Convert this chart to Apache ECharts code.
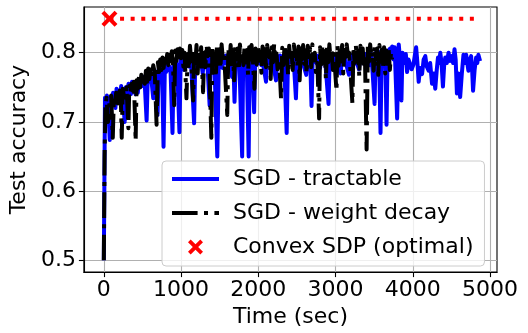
<!DOCTYPE html>
<html>
<head>
<meta charset="utf-8">
<script src="https://cdn.jsdelivr.net/npm/echarts@6/dist/echarts.min.js"></script>
<style>
html,body{margin:0;padding:0;background:#fff;}
#chart{width:528px;height:333px;}
</style>
</head>
<body>
<div id="chart"></div>
<script>
// ---- data ----
const blueTime = [0,8,15,28,40,55,77,90,105,120,135,150,165,180,195,210,225,245,271,285,300,320,335,350,365,380,395,410,425,440,455,470,485,500,515,530,554,570,585,600,615,640,655,670,696,710,725,740,755,773,790,805,820,835,850,865,889,905,920,935,950,979,995,1010,1025,1040,1055,1070,1085,1100,1115,1130,1169,1185,1200,1215,1230,1245,1260,1280,1300,1315,1335,1370,1385,1400,1415,1430,1469,1490,1505,1520,1535,1550,1565,1580,1600,1615,1630,1660,1675,1692,1710,1725,1740,1755,1791,1805,1820,1835,1850,1875,1890,1905,1920,1946,1960,1975,1990,2010,2025,2040,2055,2070,2100,2115,2135,2150,2170,2185,2200,2229,2245,2260,2280,2300,2315,2335,2367,2385,2400,2420,2440,2455,2487,2505,2520,2540,2555,2570,2590,2620,2635,2650,2670,2689,2705,2720,2740,2760,2780,2800,2820,2840,2855,2870,2909,2925,2940,2960,2975,2995,3010,3025,3040,3067,3085,3100,3120,3135,3174,3190,3210,3225,3245,3260,3275,3303,3320,3335,3355,3370,3390,3410,3425,3440,3455,3470,3505,3520,3535,3550,3565,3582,3598,3612,3630,3645,3660,3675,3690,3705,3720,3733,3750,3765,3797,3818,3835,3853,3866,3879,3895,3910,3926,3945,3969,3985,4008,4025,4043,4060,4076,4095,4120,4140,4162,4180,4205,4225,4249,4270,4291,4310,4326,4340,4356,4372,4390,4405,4420,4440,4463,4480,4506,4522,4540,4555,4571,4590,4613,4635,4656,4672,4691,4705,4720,4738,4755,4768,4780,4800,4820,4835,4849,4871];
const blueAcc  = [0.500,0.620,0.735,0.725,0.738,0.730,0.674,0.735,0.728,0.742,0.735,0.720,0.748,0.738,0.745,0.735,0.752,0.735,0.700,0.750,0.742,0.755,0.745,0.740,0.758,0.748,0.752,0.740,0.757,0.742,0.760,0.750,0.762,0.752,0.765,0.755,0.702,0.768,0.758,0.770,0.762,0.734,0.772,0.765,0.710,0.776,0.768,0.778,0.770,0.664,0.778,0.772,0.782,0.775,0.780,0.770,0.684,0.785,0.778,0.788,0.780,0.685,0.790,0.780,0.792,0.775,0.792,0.782,0.795,0.780,0.795,0.785,0.698,0.795,0.785,0.796,0.782,0.795,0.788,0.770,0.795,0.785,0.795,0.724,0.792,0.782,0.796,0.788,0.650,0.795,0.782,0.795,0.778,0.795,0.785,0.796,0.782,0.794,0.785,0.765,0.795,0.729,0.795,0.786,0.796,0.784,0.650,0.795,0.786,0.796,0.788,0.650,0.795,0.786,0.796,0.714,0.795,0.782,0.795,0.785,0.796,0.782,0.795,0.778,0.758,0.795,0.785,0.796,0.784,0.795,0.778,0.760,0.795,0.786,0.796,0.782,0.795,0.786,0.684,0.796,0.786,0.796,0.784,0.795,0.734,0.796,0.786,0.797,0.784,0.795,0.780,0.768,0.795,0.785,0.796,0.723,0.796,0.786,0.797,0.784,0.796,0.778,0.795,0.786,0.797,0.782,0.726,0.797,0.786,0.797,0.783,0.796,0.786,0.797,0.778,0.770,0.797,0.786,0.797,0.784,0.768,0.797,0.786,0.797,0.784,0.797,0.786,0.776,0.798,0.786,0.798,0.784,0.798,0.786,0.800,0.782,0.800,0.788,0.726,0.800,0.788,0.802,0.786,0.684,0.802,0.790,0.800,0.788,0.696,0.803,0.792,0.806,0.795,0.809,0.790,0.808,0.705,0.812,0.790,0.731,0.800,0.797,0.785,0.798,0.772,0.790,0.790,0.776,0.783,0.795,0.808,0.785,0.758,0.778,0.769,0.790,0.795,0.780,0.774,0.785,0.755,0.770,0.748,0.775,0.793,0.785,0.800,0.785,0.751,0.780,0.793,0.785,0.800,0.788,0.795,0.785,0.805,0.790,0.741,0.770,0.736,0.770,0.797,0.785,0.797,0.785,0.774,0.790,0.795,0.775,0.745,0.775,0.793,0.785,0.797,0.788];

const blackTime = [0,10,20,35,55,75,95,116,130,145,160,175,190,205,220,232,245,260,280,295,318,330,345,360,375,390,412,425,440,455,470,485,500,515,530,545,560,575,590,605,620,640,660,683,700,715,730,745,760,775,790,805,820,835,850,865,880,895,911,925,940,955,970,985,
  1000,1015,1030,1045,1070,1085,1100,1115,1130,1156,
  1170,1185,1200,1215,1230,1245,1260,1285,1300,1315,
  1330,1345,1360,1392,1405,1420,1435,1450,1465,1480,
  1495,1510,1525,1540,1555,1570,1598,1612,1627,1642,
  1657,1672,1687,1702,1717,1732,1747,1762,1777,1792,
  1807,1822,1837,1852,1867,1882,1897,1912,1927,1950,
  1965,1980,1995,2010,2025,2040,2055,2070,2085,2100,
  2115,2130,2145,2160,2175,2190,2205,2220,2235,2250,
  2270,2294,2310,2325,2340,2355,2370,2385,2400,2415,
  2430,2445,2460,2475,2490,2505,2520,2535,2550,2565,
  2580,2595,2610,2625,2640,2655,2670,2685,2700,2715,
  2730,2745,2765,2787,2800,2815,2830,2845,2860,2875,
  2890,2905,2920,2935,2950,2965,2980,3012,3025,3040,
  3055,3070,3085,3100,3115,3130,3145,3160,3175,3190,
  3218,3232,3247,3262,3277,3292,3307,3322,3337,3352,
  3367,3380,3402,3418,3433,3448,3463,3478,3493,3508,
  3523,3538,3553,3568,3583,3598,3613,3628,3643,3658,
  3673,3688,3703,3718,3733];
const blackAcc  = [0.500,0.650,0.720,0.735,0.700,0.730,0.738,0.677,0.735,0.728,0.742,0.730,0.720,0.745,0.735,0.677,0.748,0.738,0.735,0.750,0.691,0.752,0.742,0.755,0.745,0.758,0.673,0.760,0.748,0.765,0.750,0.768,0.752,0.770,0.755,0.774,0.758,0.777,0.762,0.780,0.765,0.782,0.770,0.696,0.786,0.772,0.790,0.775,0.793,0.778,0.796,0.780,0.798,0.782,0.800,0.785,0.802,0.788,0.724,0.803,0.788,0.805,0.786,0.806,
  0.792,0.804,0.780,0.800,0.734,0.798,0.776,0.810,0.790,0.731,
  0.805,0.785,0.811,0.770,0.803,0.792,0.808,0.743,0.800,0.779,
  0.811,0.795,0.806,0.677,0.809,0.783,0.799,0.765,0.810,0.790,
  0.805,0.778,0.812,0.792,0.800,0.770,0.710,0.806,0.785,0.811,
  0.780,0.803,0.760,0.809,0.791,0.806,0.775,0.812,0.794,0.800,
  0.782,0.810,0.789,0.804,0.768,0.808,0.790,0.811,0.795,0.748,
  0.806,0.783,0.810,0.792,0.800,0.771,0.809,0.788,0.805,0.779,
  0.811,0.795,0.802,0.762,0.808,0.786,0.812,0.791,0.799,0.776,
  0.790,0.734,0.807,0.782,0.811,0.793,0.800,0.768,0.810,0.788,
  0.804,0.775,0.812,0.795,0.801,0.780,0.809,0.760,0.806,0.790,
  0.811,0.784,0.803,0.770,0.810,0.792,0.806,0.779,0.812,0.789,
  0.800,0.772,0.785,0.705,0.808,0.783,0.811,0.794,0.799,0.762,
  0.809,0.786,0.812,0.790,0.802,0.775,0.798,0.745,0.810,0.781,
  0.806,0.792,0.811,0.770,0.804,0.788,0.812,0.795,0.800,0.778,
  0.727,0.808,0.785,0.811,0.791,0.803,0.766,0.810,0.789,0.806,
  0.780,0.798,0.660,0.810,0.787,0.812,0.793,0.801,0.774,0.809,
  0.790,0.806,0.768,0.811,0.792,0.804,0.778,0.808,0.770,0.803,
  0.785,0.805,0.775,0.800,0.790];

const optimalTime = [73];
const optimalAcc  = [0.849];
const optimalLineTime = [73, 4845];
const optimalLineAcc  = [0.849, 0.849];

const xTicks = [0, 1000, 2000, 3000, 4000, 5000];
const yTicks = [0.5, 0.6, 0.7, 0.8];

const seriesNames = ['SGD - tractable', 'SGD - weight decay', 'Convex SDP (optimal)'];

// ---- build ----
const zip = (a, b) => a.map((t, i) => [t, b[i]]);
const FONT = 'DejaVu Sans';
const xPath = 'path://M0,2.5 L2.5,0 L7,4.5 L11.5,0 L14,2.5 L9.5,7 L14,11.5 L11.5,14 L7,9.5 L2.5,14 L0,11.5 L4.5,7 Z';

const chart = echarts.init(document.getElementById('chart'), null, {renderer: 'canvas'});
chart.setOption({
  animation: false,
  backgroundColor: '#ffffff',
  textStyle: {fontFamily: FONT},
  grid: {left: 82, right: 31, top: 7, bottom: 57, show: true, borderColor: '#000', borderWidth: 1.1, backgroundColor: 'transparent'},
  xAxis: {
    type: 'value', min: -258, max: 5090,
    name: 'Time (sec)', nameLocation: 'middle', nameGap: 26,
    nameTextStyle: {fontFamily: FONT, fontSize: 22, color: '#000'},
    axisLine: {show: true, onZero: false, lineStyle: {color: '#000', width: 1.1}},
    axisTick: {show: true, inside: false, length: 5, customValues: xTicks, lineStyle: {color: '#000', width: 1.1}},
    axisLabel: {customValues: xTicks, margin: 7, fontFamily: FONT, fontSize: 22, color: '#000', formatter: v => String(v)},
    splitLine: {show: true, lineStyle: {color: '#b0b0b0', width: 1.1}}
  },
  yAxis: {
    type: 'value', min: 0.483, max: 0.866,
    name: 'Test accuracy', nameLocation: 'middle', nameGap: 46, nameRotate: 90,
    nameTextStyle: {fontFamily: FONT, fontSize: 22, color: '#000'},
    axisLine: {show: true, onZero: false, lineStyle: {color: '#000', width: 1.1}},
    axisTick: {show: true, inside: false, length: 5, customValues: yTicks, lineStyle: {color: '#000', width: 1.1}},
    axisLabel: {customValues: yTicks, margin: 8, fontFamily: FONT, fontSize: 22, color: '#000', formatter: v => v.toFixed(1)},
    splitLine: {show: true, lineStyle: {color: '#b0b0b0', width: 1.1}}
  },
  legend: {
    data: [
      {name: seriesNames[0], itemStyle: {opacity: 0}},
      {name: seriesNames[1], itemStyle: {opacity: 0}},
      {name: seriesNames[2]}
    ],
    orient: 'vertical',
    left: 162, top: 161,
    padding: [6, 11, 7, 8],
    itemWidth: 47, itemHeight: 15, itemGap: 10,
    backgroundColor: 'rgba(255,255,255,0.8)',
    borderColor: '#cccccc', borderWidth: 1, borderRadius: 4,
    lineStyle: {width: 4},
    textStyle: {fontFamily: FONT, fontSize: 22, color: '#000', lineHeight: 24, padding: [0, 0, 0, 9]}
  },
  series: [
    {
      name: seriesNames[0], type: 'line', data: zip(blueTime, blueAcc),
      showSymbol: false, symbol: 'none', clip: true,
      lineStyle: {color: '#0000ff', width: 4, join: 'round'},
      itemStyle: {color: '#0000ff'}, z: 2
    },
    {
      name: seriesNames[1], type: 'line', data: zip(blackTime, blackAcc),
      showSymbol: false, symbol: 'none', clip: true,
      lineStyle: {color: '#000000', width: 4, type: [25.6, 6.4, 4, 6.4], join: 'round'},
      itemStyle: {color: '#000000'}, z: 3
    },
    {
      name: 'optimal line', type: 'line', data: zip(optimalLineTime, optimalLineAcc),
      showSymbol: false, symbol: 'none',
      lineStyle: {color: '#ff0000', width: 4, type: [4, 6.6]},
      itemStyle: {color: '#ff0000'}, z: 4
    },
    {
      name: seriesNames[2], type: 'scatter', data: zip(optimalTime, optimalAcc),
      symbol: xPath, symbolSize: 16,
      itemStyle: {color: '#ff0000', opacity: 1}, z: 5
    }
  ]
});
</script>
</body>
</html>
